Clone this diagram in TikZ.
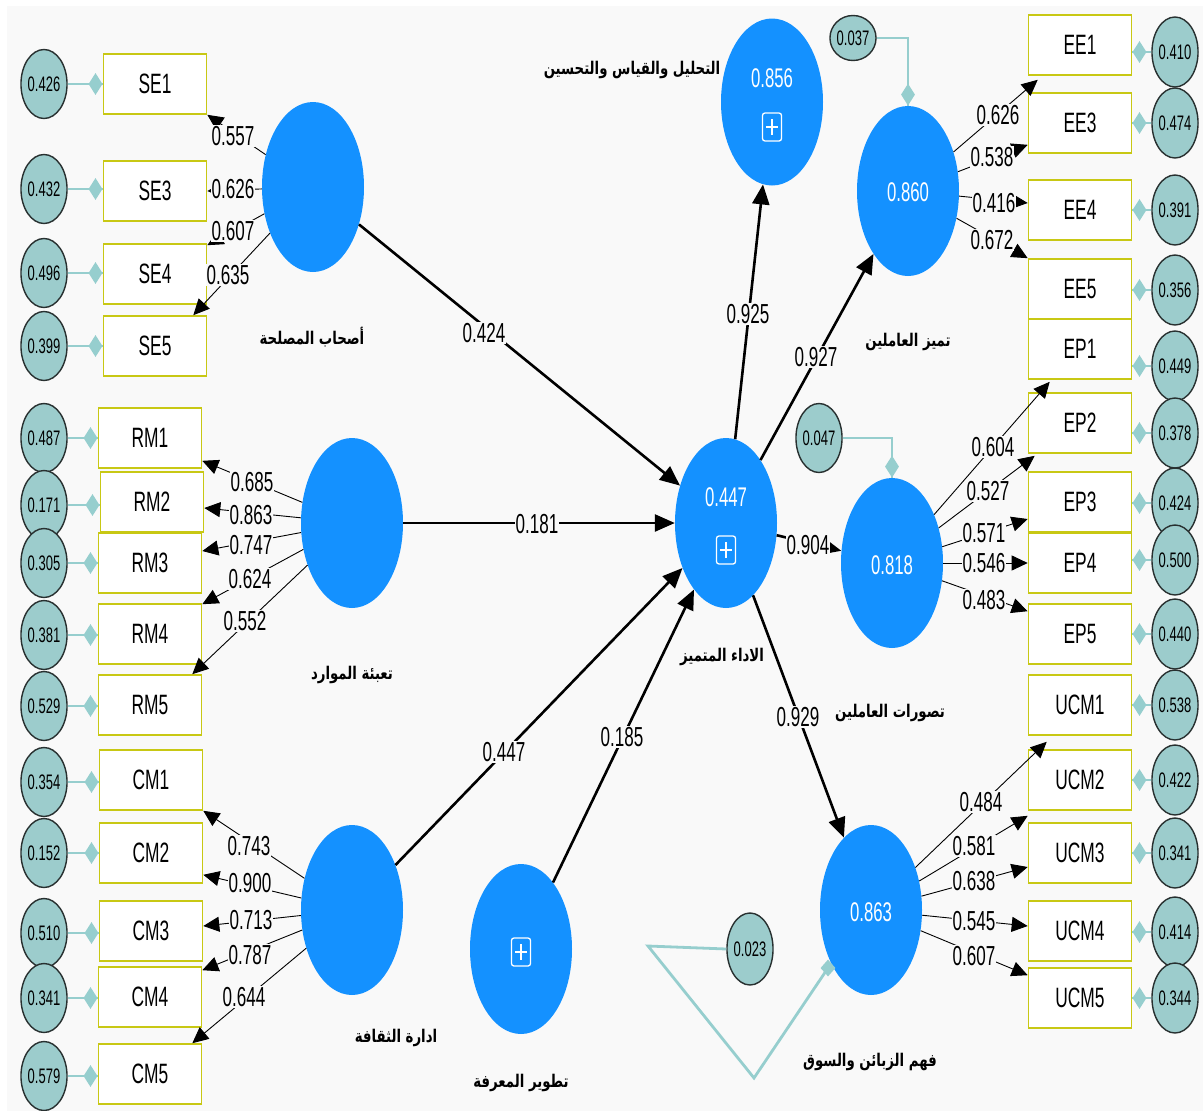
\documentclass[tikz,border=0pt]{standalone}
\usepackage{fontspec}
\setmainfont{Liberation Sans}[FakeStretch=0.62]
\newfontfamily\arabicfont[Script=Arabic,FakeStretch=0.76]{DejaVu Sans}
\TeXXeTstate=1
\usetikzlibrary{shapes.geometric,arrows.meta,calc}
\definecolor{bgc}{RGB}{249,249,249}
\definecolor{cblue}{RGB}{20,145,255}
\definecolor{errfill}{RGB}{156,204,204}
\definecolor{errline}{RGB}{40,48,48}
\definecolor{tealc}{RGB}{150,206,206}
\definecolor{boxline}{RGB}{200,200,20}
\tikzset{
  construct/.style={ellipse, fill=cblue, minimum width=102, minimum height=170, inner sep=0pt},
  errc/.style={ellipse, draw=errline, line width=1.4pt, fill=errfill, minimum width=43, minimum height=69, inner sep=0pt, font=\fontsize{21}{22}\selectfont},
  errsmall/.style={errc, minimum width=35, minimum height=45},
  indbox/.style={rectangle, draw=boxline, line width=1.6pt, fill=white, minimum width=103, minimum height=60, inner sep=0pt, font=\fontsize{28}{30}\selectfont},
  lbl/.style={fill=bgc, inner sep=1pt, font=\fontsize{27.5}{28}\selectfont},
  val/.style={text=white, inner sep=0pt, font=\fontsize{27}{28}\selectfont},
  arlbl/.style={inner sep=0pt, font=\arabicfont\bfseries\fontsize{17.5}{20}\selectfont},
  pathc/.style={line width=2.6pt, -{Triangle[length=20pt,width=17pt]}},
  load/.style={line width=0.9pt, -{Triangle[length=16pt,width=15pt]}},
  conn/.style={draw=tealc, line width=2.8pt},
  diam/.style={diamond, fill=tealc, minimum width=14, minimum height=22, inner sep=0pt},
  plusicon/.pic={\draw[white,line width=1.3pt,rounded corners=2.5pt] (-9.5,-14) rectangle (9.5,14);
                 \draw[white,line width=1.3pt] (-6,0)--(6,0) (0,-8)--(0,8);}
}
\begin{document}
\begin{tikzpicture}[x=1pt,y=-1pt]
\useasboundingbox (0,0) rectangle (1203,1111);
\fill[white] (0,0) rectangle (1203,1111);
\fill[bgc] (7,6) rectangle (1203,1111);

% ---------- constructs ----------
\node[construct] (SE) at (313,187) {};
\node[construct] (RM) at (352,523) {};
\node[construct] (CM) at (352,910) {};
\node[construct] (KD) at (521,949) {};
\node[construct] (CEN) at (726,523) {};
\node[construct, minimum height=167] (AN) at (772,102) {};
\node[construct] (EE) at (908,191) {};
\node[construct] (EP) at (892,563) {};
\node[construct] (UCM) at (871,910) {};

% ---------- left indicators ----------
\foreach \n/\bx/\by/\ey/\v in {SE1/155/84/84/0.426, SE3/155/191/189/0.432, SE4/155/274/273/0.496, SE5/155/346/346/0.399,
  RM1/150/438/438/0.487, RM2/152/502/505/0.171, RM3/150/563/563/0.305, RM4/150/634/635/0.381, RM5/150/705/706/0.529,
  CM1/151/780/782/0.354, CM2/151/853/853/0.152, CM3/151/931/933/0.510, CM4/150/997/998/0.341, CM5/150/1074/1076/0.579}{
  \node[errc] (e\n) at (44,\ey) {\v};
  \node[indbox] (\n) at (\bx,\by) {\n};
  \draw[conn] (e\n.east) -- (e\n.east -| \n.west);
  \node[diam, anchor=east] (d\n) at (e\n.east -| \n.west) {};
}

% ---------- right indicators ----------
\foreach \n/\by/\ey/\v in {EE1/45/52/0.410, EE3/123/123/0.474, EE4/210/210/0.391, EE5/289/290/0.356,
  EP1/349/366/0.449, EP2/423/433/0.378, EP3/502/503/0.424, EP4/563/560/0.500, EP5/634/634/0.440,
  UCM1/705/705/0.538, UCM2/780/780/0.422, UCM3/853/853/0.341, UCM4/931/932/0.414, UCM5/998/998/0.344}{
  \node[errc, minimum width=44, minimum height=70] (e\n) at (1175,\ey) {\v};
  \node[indbox] (\n) at (1080,\by) {\n};
  \draw[conn] (e\n.west) -- (e\n.west -| \n.east);
  \node[diam, anchor=west] (d\n) at (e\n.west -| \n.east) {};
}

% ---------- structural error terms ----------
\node[errsmall] (e037) at (853,38) {0.037};
\draw[conn] (e037.east) -| (EE.north);
\node[diam, anchor=south] (dEE) at (EE.north) {};

\node[errc] (e047) at (819,438) {0.047};
\draw[conn] (e047.east) -| (EP.north);
\node[diam, anchor=south] (dEP) at (EP.north) {};

\node[errc, minimum width=44, minimum height=72] (e023) at (750,949) {0.023};
\coordinate (u1) at (648,946);
\coordinate (u2) at (754,1078);
\coordinate (u3) at (828,968);
\draw[conn, line join=miter] (e023.west) -- (u1) -- (u2) -- (u3);
\node[diamond, fill=tealc, minimum width=15, minimum height=17, inner sep=0pt] (dU) at (u3) {};

% ---------- construct contents ----------
\node[val] (vCEN) at (726,497) {0.447};
\pic at (726,550) {plusicon};
\node[val] (vAN) at (772,78) {0.856};
\pic at (772,127) {plusicon};
\node[val] (vEE) at (908,192) {0.860};
\node[val] (vEP) at (892,565) {0.818};
\node[val] (vUCM) at (871,912) {0.863};
\pic at (521,952) {plusicon};

% ---------- construct names ----------
\node[arlbl] (nSE) at (312,337) {\beginR أصحاب المصلحة\endR};
\node[arlbl] (nRM) at (352,675) {\beginR تعبئة الموارد\endR};
\node[arlbl] (nCM) at (396,1038) {\beginR ادارة الثقافة\endR};
\node[arlbl] (nKD) at (521,1083) {\beginR تطوير المعرفة\endR};
\node[arlbl] (nCEN) at (722,657) {\beginR الاداء المتميز\endR};
\node[arlbl] (nAN) at (632,70) {\beginR التحليل والقياس والتحسين\endR};
\node[arlbl] (nEE) at (908,342) {\beginR تميز العاملين\endR};
\node[arlbl] (nEP) at (890,713) {\beginR تصورات العاملين\endR};
\node[arlbl] (nUCM) at (870,1062) {\beginR فهم الزبائن والسوق\endR};

% ---------- inner model ----------
\draw[pathc] (SE) -- (CEN);
\draw[pathc] (RM) -- (CEN);
\draw[pathc] (CM) -- (CEN);
\draw[pathc] (KD) -- (CEN);
\draw[pathc] (CEN) -- (AN);
\draw[pathc] (CEN) -- (EE);
\draw[pathc] (CEN) -- (EP);
\draw[pathc] (CEN) -- (UCM);

% ---------- outer loadings ----------
\draw[load] (SE) -- (SE1.south east);
\draw[load] (SE) -- (SE3.east);
\draw[load] (SE) -- ([yshift=-2pt]SE4.north east);
\draw[load] (SE) -- ([xshift=-14pt]SE5.north east);

\draw[load] (RM) -- ([yshift=8pt]RM1.south east);
\draw[load] (RM) -- ([yshift=-6pt]RM2.east);
\draw[load] (RM) -- ([yshift=12pt]RM3.east);
\draw[load] (RM) -- ([yshift=-1pt]RM4.north east);
\draw[load] (RM) -- ([xshift=-10pt]RM5.north east);

\draw[load] (CM) -- (CM1.south east);
\draw[load] (CM) -- ([yshift=9pt]CM2.south east);
\draw[load] (CM) -- ([yshift=5pt]CM3.east);
\draw[load] (CM) -- ([yshift=-4pt]CM4.north east);
\draw[load] (CM) -- ([xshift=-10pt]CM5.north east);

\draw[load] (EE) -- ([xshift=10pt,yshift=-4pt]EE1.south west);
\draw[load] (EE) -- ([yshift=9pt]EE3.south west);
\draw[load] (EE) -- ([yshift=7pt]EE4.west);
\draw[load] (EE) -- (EE5.north west);

\draw[load] (EP) -- ([xshift=22pt,yshift=-2pt]EP1.south west);
\draw[load] (EP) -- ([xshift=7pt,yshift=-2pt]EP2.south west);
\draw[load] (EP) -- ([yshift=-17pt]EP3.west);
\draw[load] (EP) -- (EP4.west);
\draw[load] (EP) -- ([yshift=-8pt]EP5.north west);

\draw[load] (UCM) -- ([xshift=19pt,yshift=-6pt]UCM1.south west);
\draw[load] (UCM) -- ([yshift=-5pt]UCM2.south west);
\draw[load] (UCM) -- ([yshift=-14pt]UCM3.west);
\draw[load] (UCM) -- ([yshift=5pt]UCM4.west);
\draw[load] (UCM) -- ([yshift=-8pt]UCM5.north west);

% ---------- labels ----------
\foreach \nm/\x/\y/\t in {
  l424/484/333/0.424, l181/537/524/0.181, l447/504/752/0.447, l185/622/737/0.185,
  l925/748/314/0.925, l927/816/357/0.927, l904/808/545/0.904, l929/798/717/0.929,
  a1/233/136/0.557, a2/233/189/0.626, a3/233/231/0.607, a4/228/275/0.635,
  b1/252/482/0.685, b2/251/515/0.863, b3/251/545/0.747, b4/250/579/0.624, b5/245/621/0.552,
  c1/249/846/0.743, c2/250/883/0.900, c3/251/920/0.713, c4/250/955/0.787, c5/244/997/0.644,
  d1/998/115/0.626, d2/992/157/0.538, d3/994/203/0.416, d4/992/240/0.672,
  f1/993/447/0.604, f2/988/491/0.527, f3/984/533/0.571, f4/984/563/0.546, f5/984/600/0.483,
  g1/981/802/0.484, g2/974/846/0.581, g3/974/881/0.638, g4/974/921/0.545, g5/974/956/0.607}{
  \node[lbl] (\nm) at (\x,\y) {\t};
}
\end{tikzpicture}
\end{document}
